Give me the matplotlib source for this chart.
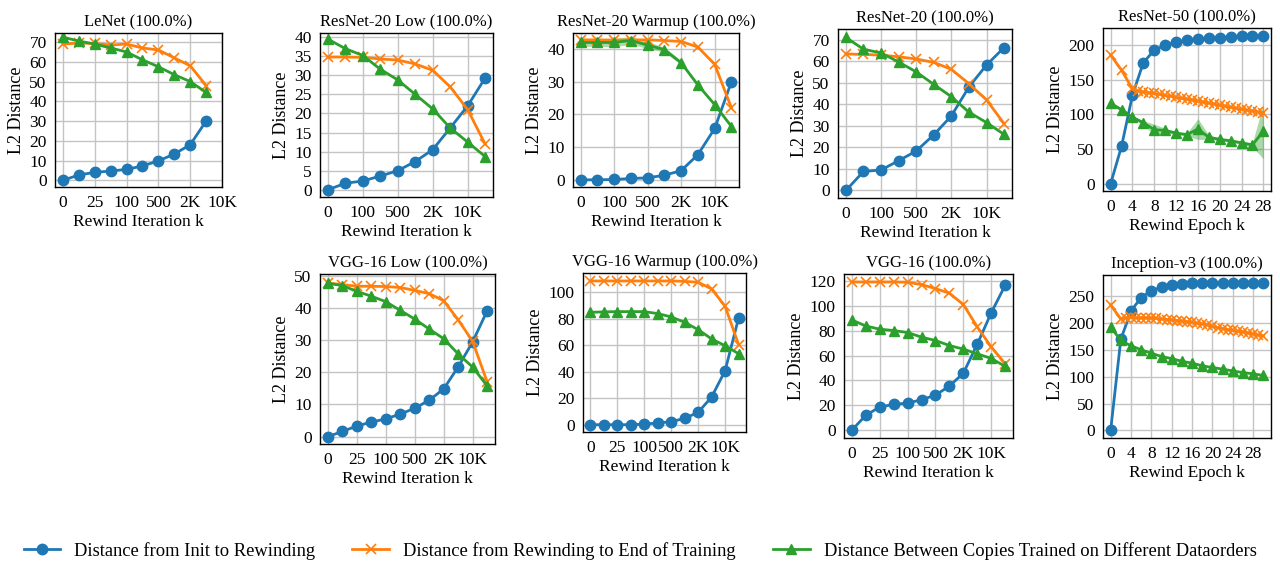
import matplotlib
matplotlib.use('Agg')
import matplotlib.pyplot as plt
import numpy as np

plt.rcParams['font.family'] = ['Liberation Serif', 'DejaVu Serif']
plt.rcParams['font.size'] = 12

# ---- data ----
iter_ticks_a = ['0', '25', '100', '500', '2K', '10K']
iter_ticks_b = ['0', '100', '500', '2K', '10K']

lenet_init = [0, 2.7, 4, 4.7, 5.5, 7.3, 9.8, 13.3, 18, 30]
lenet_end = [69, 69.5, 69.3, 68.5, 69, 67, 66, 62, 58, 48]
lenet_copies = [72.5, 70.5, 69, 67, 65, 61, 57.5, 53.5, 50, 44.5]

r20low_init = [0, 1.7, 2.3, 3.6, 5, 7.4, 10.5, 16.2, 22, 29.3]
r20low_end = [34.8, 34.8, 34.7, 34.3, 34, 33, 31.3, 27, 21, 12]
r20low_copies = [39.5, 37, 35.2, 31.6, 28.8, 25, 21.2, 16.2, 12.5, 8.7]

r20warm_init = [0, 0, 0.1, 0.4, 0.6, 1.4, 2.8, 7.7, 15.7, 30]
r20warm_end = [42.8, 42.8, 42.7, 42.8, 42.8, 42.6, 42.3, 40.6, 35.3, 22]
r20warm_copies = [42, 42, 42, 42.6, 41.2, 39.8, 35.8, 29, 23, 16.3]
r20warm_copies_std = [1.2, 1.2, 1.3, 1.2, 1.0, 0.8, 0.6, 0.4, 0.3, 0.3]

r20_init = [0, 8.8, 9.5, 13.8, 18.3, 25.8, 34.6, 48, 58.2, 66.3]
r20_end = [63.3, 63.1, 62.8, 62, 61, 59.4, 56.2, 49.5, 42, 31]
r20_copies = [71, 65.5, 63.8, 59.6, 55, 49.2, 43.5, 36.3, 31.5, 26]

r50_epochs = [0, 2, 4, 6, 8, 10, 12, 14, 16, 18, 20, 22, 24, 26, 28]
r50_init = [0, 54, 128, 175, 193, 200, 205, 207, 209, 210, 211, 212, 213, 213, 214]
r50_end_epochs = [0, 2, 4, 5, 6, 7, 8, 9, 10, 11, 12, 13, 14, 15, 16, 17,
                  18, 19, 20, 21, 22, 23, 24, 25, 26, 27, 28]
r50_end = [186, 164, 137, 134, 132.5, 131.5, 130.5, 129, 127.5, 126.5, 125,
           123.5, 122, 121, 119.5, 118, 116.5, 115, 113.5, 112, 110.5, 109,
           107.5, 106, 105, 103.5, 102]
r50_copies = [116, 107, 96, 88, 78, 77, 73, 71, 79, 67, 64, 62, 59, 56, 76]
r50_copies_std = [3, 2, 2, 3, 8, 3, 2, 2, 15, 3, 2, 2, 2, 3, 40]

vlow_init = [0, 1.6, 3.3, 4.5, 5.5, 7, 8.8, 11.3, 14.8, 21.6, 29.4, 39]
vlow_end = [47.7, 47.2, 46.7, 46.7, 46.6, 46.3, 45.4, 44.4, 42.2, 36.3, 29.6, 17.1]
vlow_copies = [47.6, 46.9, 45.1, 43.6, 41.9, 39.2, 36.5, 33.4, 30.4, 25.7, 21.6, 15.8]

vwarm_init = [0, 0, 0, 0, 0.5, 1.3, 2.3, 4.8, 9.3, 20.9, 40.7, 80.4]
vwarm_end = [108.3, 108.3, 108.3, 108.3, 108.3, 108.3, 108.3, 108, 107.3, 102.3, 89.2, 60.3]
vwarm_copies = [84.7, 85, 85.2, 85.2, 85.2, 83.7, 81.2, 77.1, 71.6, 64.6, 59.5, 53.5]

vgg_init = [0, 12, 18.7, 20.8, 21.9, 24.5, 28.3, 35.5, 45.9, 69.3, 94.4, 116.5]
vgg_end = [118.9, 118.9, 118.9, 118.9, 118.7, 116.8, 113.6, 109.9, 100.8, 82.7, 66.7, 53.3]
vgg_copies = [88.5, 83.7, 81.1, 80, 78.4, 74.7, 72, 68, 65.1, 61.3, 57.6, 51.2]

inc_epochs = [0, 2, 4, 6, 8, 10, 12, 14, 16, 18, 20, 22, 24, 26, 28, 30]
inc_init = [0, 170, 223, 248, 261, 267, 272, 274, 275.5, 276, 276, 276, 276, 276, 276, 276]
inc_end_epochs = [0, 2, 3, 4, 5, 6, 7, 8, 9, 10, 11, 12, 13, 14, 15, 16, 17,
                  18, 19, 20, 21, 22, 23, 24, 25, 26, 27, 28, 29, 30]
inc_end = [234, 208, 210, 211, 210.5, 210, 210, 209.5, 209, 208, 207, 206,
           205, 204, 203, 201.5, 200, 199, 197, 194, 192, 190, 188, 186.5,
           185, 184, 182, 180, 178, 176.5]
inc_copies = [193, 168, 158, 150.5, 144, 138, 134, 129, 125.6, 120.6, 117.5,
              114.4, 111, 108, 105.7, 102.6]

C_INIT, C_END, C_COP = '#1f77b4', '#ff7f0e', '#2ca02c'
W, H = 1280, 565

fig = plt.figure(figsize=(W / 100, H / 100), dpi=100)


def make_ax(l, t, r, b):
    return fig.add_axes([l / W, 1 - b / H, (r - l) / W, (b - t) / H])


def style(ax, title, xlabel):
    ax.set_title(title, fontsize=12, pad=5)
    ax.set_xlabel(xlabel, fontsize=12.5, labelpad=2)
    ax.set_ylabel('L2 Distance', fontsize=13, labelpad=3)
    ax.grid(True, color='#c4c4c4', linewidth=1)
    ax.set_axisbelow(True)
    ax.tick_params(length=0, pad=6, labelsize=12.5)
    for s in ax.spines.values():
        s.set_linewidth(1)


def draw(ax, x, init, end, cop, xe=None, cop_std=None):
    if xe is None:
        xe = x
    ax.plot(x, init, color=C_INIT, marker='o', ms=7.5, lw=2)
    ax.plot(xe, end, color=C_END, marker='x', ms=7.5, mew=1.2, lw=2)
    ax.plot(x, cop, color=C_COP, marker='^', ms=7.5, lw=2)
    if cop_std is not None:
        c = np.array(cop)
        s = np.array(cop_std)
        ax.fill_between(x, c - s, c + s, color=C_COP, alpha=0.4, lw=0)


def iter_panel(box, title, init, end, cop, labels, ylim, ystep, xlim=None, cop_std=None):
    ax = make_ax(*box)
    x = np.arange(len(init))
    draw(ax, x, init, end, cop, cop_std=cop_std)
    ax.set_xticks(np.arange(len(labels)) * 2)
    ax.set_xticklabels(labels)
    if xlim is not None:
        ax.set_xlim(*xlim)
    ax.set_ylim(*ylim)
    ax.set_yticks(np.arange(0, ylim[1], ystep))
    style(ax, title, 'Rewind Iteration k')
    return ax


def epoch_panel(box, title, x, init, xe, end, cop, ylim, ystep, cop_std=None):
    ax = make_ax(*box)
    draw(ax, x, init, end, cop, xe=xe, cop_std=cop_std)
    ax.set_xticks(np.arange(0, 29, 4))
    ax.set_ylim(*ylim)
    ax.set_yticks(np.arange(0, ylim[1], ystep))
    style(ax, title, 'Rewind Epoch k')
    return ax


iter_panel((55, 33, 222, 187), 'LeNet (100.0%)', lenet_init, lenet_end, lenet_copies,
           iter_ticks_a, (-3.4, 74.6), 10, xlim=(-0.5, 10))
iter_panel((320, 33, 493, 197), 'ResNet-20 Low (100.0%)', r20low_init, r20low_end,
           r20low_copies, iter_ticks_b, (-1.9, 41.1), 5)
iter_panel((573, 33, 739, 187), 'ResNet-20 Warmup (100.0%)', r20warm_init, r20warm_end,
           r20warm_copies, iter_ticks_b, (-2.2, 44.9), 10, cop_std=r20warm_copies_std)
iter_panel((838, 29, 1012, 198), 'ResNet-20 (100.0%)', r20_init, r20_end, r20_copies,
           iter_ticks_b, (-3.5, 74.9), 10)
epoch_panel((1103, 28, 1271, 191), 'ResNet-50 (100.0%)', r50_epochs, r50_init,
            r50_end_epochs, r50_end, r50_copies, (-10.6, 225), 50, cop_std=r50_copies_std)

iter_panel((320, 274, 495, 444), 'VGG-16 Low (100.0%)', vlow_init, vlow_end, vlow_copies,
           iter_ticks_a, (-2.3, 50.5), 10)
iter_panel((583, 273, 746, 432), 'VGG-16 Warmup (100.0%)', vwarm_init, vwarm_end,
           vwarm_copies, iter_ticks_a, (-5.5, 114.3), 20)
iter_panel((844, 274, 1013, 438), 'VGG-16 (100.0%)', vgg_init, vgg_end, vgg_copies,
           iter_ticks_a, (-6.1, 125.3), 20)
epoch_panel((1103, 275, 1271, 438), 'Inception-v3 (100.0%)', inc_epochs, inc_init,
            inc_end_epochs, inc_end, inc_copies, (-14, 290), 50)

handles = [
    plt.Line2D([], [], color=C_INIT, marker='o', ms=7.5, lw=2),
    plt.Line2D([], [], color=C_END, marker='x', ms=7.5, mew=1.2, lw=2),
    plt.Line2D([], [], color=C_COP, marker='^', ms=7.5, lw=2),
]
labels = ['Distance from Init to Rewinding',
          'Distance from Rewinding to End of Training',
          'Distance Between Copies Trained on Different Dataorders']
fig.legend(handles, labels, loc='center', bbox_to_anchor=(0.5, 1 - 551 / H), ncol=3,
           frameon=False, fontsize=13.3, handlelength=2.0, columnspacing=2.0,
           handletextpad=0.75)

fig.savefig('out.png', dpi=100)
